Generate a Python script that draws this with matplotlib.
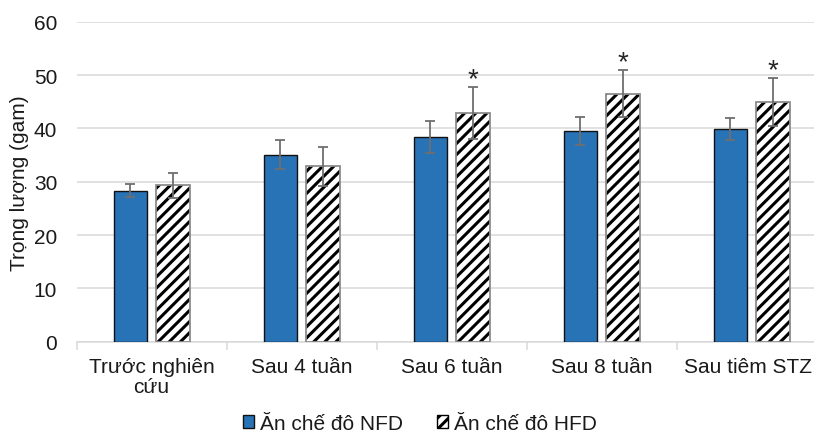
import numpy as np
import matplotlib.pyplot as plt
import matplotlib.transforms as mtransforms
from matplotlib.patches import Patch

# data
categories = ['Trước nghiên\ncứu', 'Sau 4 tuần', 'Sau 6 tuần', 'Sau 8 tuần', 'Sau tiêm STZ']
nfd_mean = [28.3, 35.1, 38.3, 39.5, 39.9]
nfd_err = [1.2, 2.7, 3.0, 2.6, 2.0]
hfd_mean = [29.3, 32.9, 42.9, 46.5, 44.9]
hfd_err = [2.4, 3.7, 4.8, 4.4, 4.5]
significant = [False, False, True, True, True]
labels = ['Ăn chế đô NFD', 'Ăn chế đô HFD']

plt.rcParams['font.family'] = ['Liberation Sans', 'DejaVu Sans']
plt.rcParams['hatch.linewidth'] = 2.2

blue = '#2872b6'
grid_c = '#d9d9d9'
err_c = '#6e6e6e'

fig = plt.figure(figsize=(8.14, 4.35), dpi=100)
ax = fig.add_axes([0.0942, 0.2122, 0.9214, 0.7356])

x = np.arange(len(categories))
w = 0.223
off = 0.143

ax.bar(x - off, nfd_mean, w, color=blue, edgecolor='#111111', linewidth=1, zorder=3)
ax.errorbar(x - off, nfd_mean, yerr=nfd_err, fmt='none', ecolor=err_c,
            elinewidth=1.3, capsize=3.5, capthick=1.3, zorder=4)

ax.bar(x + off, hfd_mean, w, color='white', edgecolor='black', hatch='///',
       linewidth=0, zorder=3)
ax.bar(x + off, hfd_mean, w, fill=False, edgecolor='#8c8c8c', linewidth=1.3, zorder=3)
ax.errorbar(x + off, hfd_mean, yerr=hfd_err, fmt='none', ecolor=err_c,
            elinewidth=1.3, capsize=3.5, capthick=1.3, zorder=4)

for xi, m, e, s in zip(x, hfd_mean, hfd_err, significant):
    if s:
        ax.annotate('*', (xi + off, m + e), xytext=(0, 1), textcoords='offset points',
                    ha='center', va='baseline', fontsize=20, color='#262626')

ax.set_xlim(-0.5, len(categories) - 0.5)
ax.set_ylim(0, 60)
ax.set_yticks(range(0, 61, 10))
ax.grid(axis='y', color=grid_c, linewidth=1.1, zorder=0)
ax.set_axisbelow(True)

for side in ['top', 'right', 'left']:
    ax.spines[side].set_visible(False)
ax.spines['bottom'].set_color(grid_c)
ax.spines['bottom'].set_linewidth(1.1)

ax.set_xticks(x)
ax.set_xticklabels(categories, fontsize=15, color='#1a1a1a', linespacing=1.05)
ax.set_xticks(np.arange(-0.5, len(categories), 1), minor=True)
ax.tick_params(axis='x', which='major', length=0, pad=11)
ax.tick_params(axis='x', which='minor', length=6, color=grid_c, width=1.1)
ax.tick_params(axis='y', length=0, pad=14, labelsize=15, labelcolor='#1a1a1a')

# last label sits a little left so it fits in the picture
last = ax.get_xticklabels()[-1]
last.set_transform(last.get_transform() + mtransforms.ScaledTranslation(-4 / 100, 0, fig.dpi_scale_trans))

fig.text(0.024, 0.58, 'Trọng lượng (gam)', rotation=90, ha='center', va='center',
         fontsize=15, color='#1a1a1a')

handles = [Patch(facecolor=blue, edgecolor='#111111', linewidth=1),
           Patch(facecolor='white', edgecolor='black', hatch='///', linewidth=1)]
fig.legend(handles, labels, loc='center', bbox_to_anchor=(0.516, 0.024), ncol=2,
           frameon=False, fontsize=15, handlelength=0.55, handleheight=0.55,
           handletextpad=0.3, columnspacing=1.6, labelcolor='#1a1a1a')

fig.savefig('out.png', dpi=100)
